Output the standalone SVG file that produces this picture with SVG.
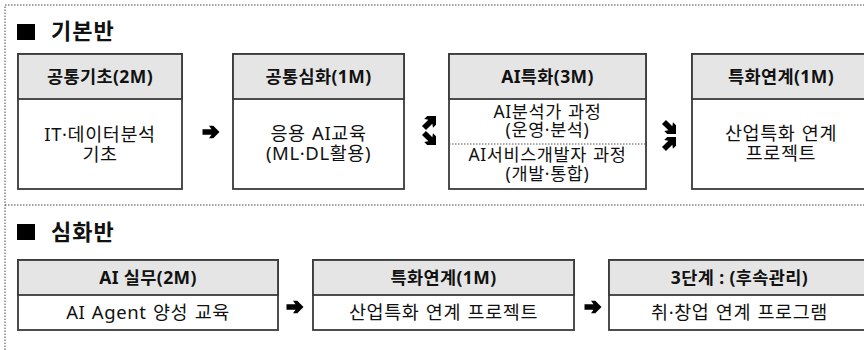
<svg xmlns="http://www.w3.org/2000/svg" width="864" height="350" viewBox="0 0 864 350">
<style>
.frame{fill:none;stroke:#444;stroke-width:1;stroke-dasharray:1.5 1.5}
.box{fill:#fff;stroke:#3a3a3a;stroke-width:1.8}
.hdr{fill:#e5e5e5;stroke:#3a3a3a;stroke-width:1.8}
.sep{stroke:#555;stroke-width:1;stroke-dasharray:1.5 1.5}
.title{font-family:"Noto Sans","Noto Sans CJK KR",sans-serif;font-weight:bold;font-size:22px;letter-spacing:1px;fill:#111}
.ht{font-family:"Noto Sans","Noto Sans CJK KR",sans-serif;font-weight:bold;font-size:17.5px;letter-spacing:0.4px;fill:#111;text-anchor:middle}
.bt{font-family:"Noto Sans","Noto Sans CJK KR",sans-serif;font-size:18.5px;letter-spacing:0.6px;word-spacing:1px;fill:#111;text-anchor:middle}
.bs{font-size:17.5px}
.arr{fill:#000}
</style>
<defs>
<path id="ar" class="arr" d="M-8.5,-2.8 L0.5,-2.8 L-2,-6.2 L2.3,-6.2 L8.5,0 L2.3,6.2 L-2,6.2 L0.5,2.8 L-8.5,2.8 Z"/>
</defs>
<rect width="864" height="350" fill="#fff"/>
<g id="frame">
<path class="frame" d="M5,350 L5,5 L864,5"/>
<line class="frame" x1="5" y1="205" x2="864" y2="205"/>
</g>
<g id="title-basic">
<rect x="17" y="24" width="18" height="16" fill="#000"/>
<text class="title" x="51" y="39">기본반</text>
</g>
<g id="title-advanced">
<rect x="17" y="224" width="18" height="16" fill="#000"/>
<text class="title" x="51" y="240">심화반</text>
</g>
<g id="n1">
<rect class="box" x="18" y="54" width="164" height="135"/>
<rect class="hdr" x="18" y="54" width="164" height="45"/>
<text class="ht" x="100" y="83">공통기초(2M)</text>
<text class="bt" x="100" y="141">IT·데이터분석</text>
<text class="bt" x="100" y="161">기초</text>
</g>
<g id="n2">
<rect class="box" x="233" y="54" width="171" height="135"/>
<rect class="hdr" x="233" y="54" width="171" height="45"/>
<text class="ht" x="318.5" y="83">공통심화(1M)</text>
<text class="bt" x="318.5" y="140">응용 AI교육</text>
<text class="bt" x="318.5" y="160">(ML·DL활용)</text>
</g>
<g id="n3">
<rect class="box" x="449" y="54" width="197" height="135"/>
<rect class="hdr" x="449" y="54" width="197" height="45"/>
<text class="ht" x="547.5" y="83">AI특화(3M)</text>
<line class="sep" x1="449" y1="144" x2="646" y2="144"/>
<text class="bt bs" x="547.5" y="118">AI분석가 과정</text>
<text class="bt bs" x="547.5" y="136">(운영·분석)</text>
<text class="bt bs" x="547.5" y="161">AI서비스개발자 과정</text>
<text class="bt bs" x="547.5" y="180">(개발·통합)</text>
</g>
<g id="n4">
<rect class="box" x="692" y="54" width="178" height="135"/>
<rect class="hdr" x="692" y="54" width="178" height="45"/>
<text class="ht" x="781" y="83">특화연계(1M)</text>
<text class="bt" x="781" y="140">산업특화 연계</text>
<text class="bt" x="781" y="160">프로젝트</text>
</g>
<g id="n5">
<rect class="box" x="18" y="260" width="260" height="70"/>
<rect class="hdr" x="18" y="260" width="260" height="35"/>
<text class="ht" x="148" y="284">AI 실무(2M)</text>
<text class="bt" x="148" y="319">AI Agent 양성 교육</text>
</g>
<g id="n6">
<rect class="box" x="313" y="260" width="261" height="70"/>
<rect class="hdr" x="313" y="260" width="261" height="35"/>
<text class="ht" x="443.5" y="284">특화연계(1M)</text>
<text class="bt" x="443.5" y="319">산업특화 연계 프로젝트</text>
</g>
<g id="n7">
<rect class="box" x="609" y="260" width="261" height="70"/>
<rect class="hdr" x="609" y="260" width="261" height="35"/>
<text class="ht" x="739.5" y="284">3단계 : (후속관리)</text>
<text class="bt" x="739.5" y="319">취·창업 연계 프로그램</text>
</g>
<g id="connectors">
<use href="#ar" transform="translate(211,132)"/>
<use href="#ar" transform="translate(430,122) rotate(-45)"/>
<use href="#ar" transform="translate(430,139) rotate(45)"/>
<use href="#ar" transform="translate(670,128) rotate(45)"/>
<use href="#ar" transform="translate(670,143) rotate(-45)"/>
<use href="#ar" transform="translate(295,307)"/>
<use href="#ar" transform="translate(593,307)"/>
</g>
</svg>
